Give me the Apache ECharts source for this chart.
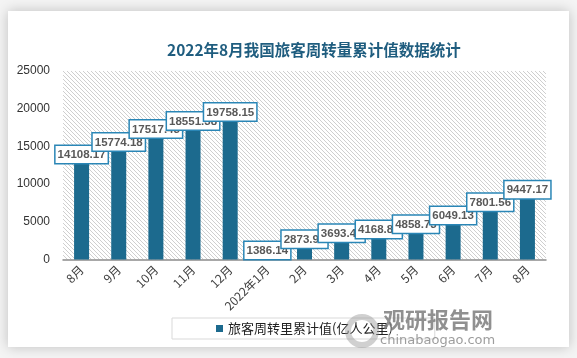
<!DOCTYPE html>
<html><head><meta charset="utf-8">
<script src="https://cdn.jsdelivr.net/npm/echarts@6/dist/echarts.min.js"></script>
<style>html,body{margin:0;padding:0;background:#f4f4f4;}#c{width:577px;height:358px;}</style>
</head><body><div id="c"></div>
<script>
var categories = ['8月','9月','10月','11月','12月','2022年1月','2月','3月','4月','5月','6月','7月','8月'];
var values = [14108.17,15774.18,17517.43,18551.38,19758.15,1386.14,2873.97,3693.47,4168.87,4858.73,6049.13,7801.56,9447.17];
var seriesName = '旅客周转里累计值(亿人公里)';
var titleText = '2022年8月我国旅客周转量累计值数据统计';

var pc = document.createElement('canvas');
pc.width = 4; pc.height = 4;
var g = pc.getContext('2d');
g.fillStyle = '#ffffff'; g.fillRect(0,0,4,4);
g.strokeStyle = '#cfcfcf'; g.lineWidth = 1;
g.beginPath(); g.moveTo(-1,-1); g.lineTo(5,5); g.moveTo(-1,3); g.lineTo(1,5); g.moveTo(3,-1); g.lineTo(5,1); g.stroke();

var chart = echarts.init(document.getElementById('c'), null, {renderer:'canvas'});
chart.setOption({
  backgroundColor: '#f4f4f4',
  animation: false,
  graphic: [
    {type:'rect', z:-10, shape:{x:8,y:11,width:561,height:336}, style:{fill:'#ffffff', shadowBlur:12, shadowColor:'rgba(0,0,0,0.22)'}},
    {type:'circle', z:20, shape:{cx:362,cy:331,r:14}, style:{fill:'none', stroke:'rgba(150,150,150,0.45)', lineWidth:6}},
    {type:'text', z:20, left:383, top:309, style:{text:'观研报告网', fontSize:22, fontWeight:'bold', fill:'rgba(125,125,125,0.85)', fontFamily:'Noto Sans CJK SC'}},
    {type:'text', z:20, left:380, top:334, style:{text:'chinabaogao.com', fontSize:13, fill:'rgba(140,140,140,0.85)', fontFamily:'DejaVu Sans'}}
  ],
  title: {
    text: titleText, left: 162, top: 37,
    textStyle: {fontSize:15.5, fontWeight:'bold', color:'#1f5d7f', fontFamily:'Noto Sans CJK SC'}
  },
  legend: {
    data: [seriesName], left: 172, top: 318,
    icon: 'rect', itemWidth: 7, itemHeight: 7, itemGap: 5,
    borderColor: '#d9d9d9', borderWidth: 1, borderRadius: 0,
    padding: [4, 42, 4, 44],
    textStyle: {fontSize:13, color:'#222', fontFamily:'Noto Sans CJK SC'}
  },
  grid: {left:63, right:31, top:71, bottom:98.5, show:true, borderWidth:0,
    backgroundColor: {image: pc, repeat: 'repeat'}},
  xAxis: {
    type:'category', data: categories,
    axisLine:{lineStyle:{color:'#8c8c8c', width:1.5}},
    axisTick:{show:false},
    axisLabel:{rotate:45, fontSize:12, color:'#404040', margin:8, interval:0, fontFamily:'Noto Sans CJK SC'}
  },
  yAxis: {
    type:'value', min:0, max:25000, interval:5000,
    axisLine:{show:false}, axisTick:{show:false}, splitLine:{show:false},
    axisLabel:{fontSize:12, color:'#333', margin:13, fontFamily:'Liberation Sans',
      formatter: function(v){ return String(v); }}
  },
  series: [{
    name: seriesName, type:'bar', data: values, barWidth: 15,
    itemStyle:{color:'#1c6a8e'},
    labelLayout: {moveOverlap: 'shiftY'},
    label:{
      show:true, position:'top', distance:-10,
      formatter: function(p){ return p.value.toFixed(2); },
      backgroundColor:'#ffffff', borderColor:'#2a86b6', borderWidth:1.5,
      padding:[3,2,2,2], color:'#595959', fontWeight:'bold', fontSize:11.5,
      fontFamily:'Liberation Sans'
    }
  }]
});
</script></body></html>
